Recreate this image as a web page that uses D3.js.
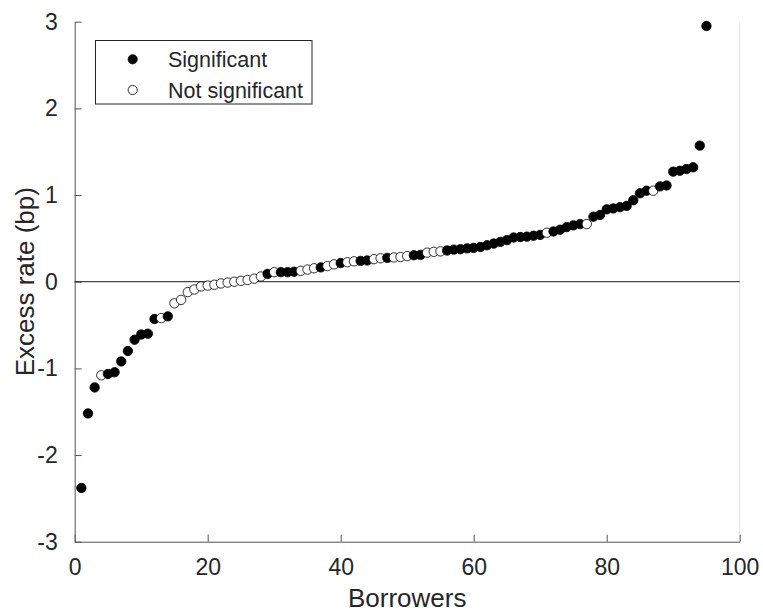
<!DOCTYPE html>
<html>
<head>
<meta charset="utf-8">
<script src="https://cdn.jsdelivr.net/npm/d3@7"></script>
<style>
  html, body { margin: 0; padding: 0; background: #fff; }
  svg { display: block; font-family: "Liberation Sans", Arial, Helvetica, sans-serif; }
</style>
</head>
<body>
<svg id="chart" width="763" height="614"></svg>
<script>
// Excess rate per borrower, sorted ascending (basis points)
const borrowers = d3.range(1, 96);
const excessRate = [
  -2.38, -1.52, -1.22, -1.08, -1.065, -1.045, -0.92, -0.80, -0.67, -0.61,
  -0.60, -0.43, -0.42, -0.40, -0.25, -0.21, -0.12, -0.09, -0.055, -0.045,
  -0.035, -0.02, -0.01, 0.0, 0.01, 0.02, 0.035, 0.06, 0.09, 0.11,
  0.11, 0.11, 0.115, 0.125, 0.14, 0.155, 0.165, 0.18, 0.20, 0.215,
  0.225, 0.235, 0.24, 0.245, 0.26, 0.27, 0.275, 0.28, 0.285, 0.295,
  0.305, 0.31, 0.335, 0.345, 0.35, 0.36, 0.37, 0.375, 0.385, 0.39,
  0.40, 0.42, 0.44, 0.46, 0.48, 0.51, 0.515, 0.52, 0.53, 0.54,
  0.565, 0.58, 0.60, 0.63, 0.65, 0.665, 0.665, 0.75, 0.77, 0.835,
  0.845, 0.86, 0.875, 0.94, 1.02, 1.05, 1.05, 1.10, 1.11, 1.27,
  1.28, 1.30, 1.32, 1.57, 2.95
];
// 1 = significant, 0 = not significant
const significant = [
  1, 1, 1, 0, 1, 1, 1, 1, 1, 1,
  1, 1, 0, 1, 0, 0, 0, 0, 0, 0,
  0, 0, 0, 0, 0, 0, 0, 0, 1, 0,
  1, 1, 1, 0, 0, 0, 1, 0, 0, 1,
  0, 0, 1, 1, 0, 0, 1, 0, 0, 0,
  1, 1, 0, 0, 0, 1, 1, 1, 1, 1,
  1, 1, 1, 1, 1, 1, 1, 1, 1, 1,
  0, 1, 1, 1, 1, 1, 0, 1, 1, 1,
  1, 1, 1, 1, 1, 1, 0, 1, 1, 1,
  1, 1, 1, 1, 1
];
const xTicks = [0, 20, 40, 60, 80, 100];
const yTicks = [-3, -2, -1, 0, 1, 2, 3];
const yTickLabels = ["-3", "-2", "-1", "0", "1", "2", "3"];
const legendLabels = ["Significant", "Not significant"];

const ink = "#262626";
const svg = d3.select("#chart");

const x = d3.scaleLinear().domain([0, 100]).range([74.7, 739.7]);
const y = d3.scaleLinear().domain([-3, 3]).range([541.7, 21.7]);

// faint right edge of the axes box
svg.append("line")
  .attr("x1", x(100)).attr("x2", x(100))
  .attr("y1", y(3)).attr("y2", y(-3))
  .attr("stroke", "#e4e4e4").attr("stroke-width", 1);

// x axis (ticks point inward)
const xAxis = svg.append("g")
  .attr("transform", `translate(0,${y(-3)})`)
  .call(d3.axisBottom(x).tickValues(xTicks).tickSizeInner(-7).tickSizeOuter(0).tickPadding(17));
xAxis.select(".domain").attr("stroke", "#555").attr("stroke-width", 1);
xAxis.selectAll(".tick line").attr("stroke", "#555");
xAxis.selectAll(".tick text")
  .attr("fill", ink).attr("font-size", 23).attr("font-family", null)
  .attr("dy", "0.71em");

// y axis (ticks point inward)
const yAxis = svg.append("g")
  .attr("transform", `translate(${x(0)},0)`)
  .call(d3.axisLeft(y).tickValues(yTicks)
    .tickFormat((d, i) => yTickLabels[i])
    .tickSizeInner(-7).tickSizeOuter(0).tickPadding(17));
yAxis.select(".domain").attr("stroke", "#555").attr("stroke-width", 1);
yAxis.selectAll(".tick line").attr("stroke", "#555");
yAxis.selectAll(".tick text")
  .attr("fill", ink).attr("font-size", 23).attr("font-family", null);
svg.selectAll(".tick line").attr("stroke-width", 1);

// zero reference line
svg.append("line")
  .attr("x1", x(0)).attr("x2", x(100))
  .attr("y1", y(0)).attr("y2", y(0))
  .attr("stroke", "#1a1a1a").attr("stroke-width", 1);

// scatter points
const pts = borrowers.map((b, i) => ({ b, v: excessRate[i], s: significant[i] }));
svg.append("g").selectAll("circle")
  .data(pts)
  .join("circle")
  .attr("cx", d => x(d.b))
  .attr("cy", d => y(d.v))
  .attr("r", 4.7)
  .attr("fill", d => d.s ? "#000" : "#fff")
  .attr("stroke", "#000")
  .attr("stroke-width", 0.8);

// axis titles
svg.append("text")
  .attr("x", (x(0) + x(100)) / 2).attr("y", 607)
  .attr("text-anchor", "middle")
  .attr("font-size", 26).attr("fill", ink)
  .text("Borrowers");
svg.append("text")
  .attr("transform", `translate(34,${y(0)}) rotate(-90)`)
  .attr("text-anchor", "middle")
  .attr("font-size", 26).attr("fill", ink)
  .text("Excess rate (bp)");

// legend
const lg = svg.append("g");
lg.append("rect")
  .attr("x", 95.5).attr("y", 40.5).attr("width", 216.5).attr("height", 63.5)
  .attr("fill", "#fff").attr("stroke", ink).attr("stroke-width", 1);
legendLabels.forEach((lab, i) => {
  const cy = 59.3 + i * 30.7;
  lg.append("circle")
    .attr("cx", 132.7).attr("cy", cy).attr("r", 4.6)
    .attr("fill", i === 0 ? "#000" : "#fff")
    .attr("stroke", "#000").attr("stroke-width", 0.8);
  lg.append("text")
    .attr("x", 168).attr("y", cy + 8)
    .attr("font-size", 21.5).attr("fill", ink)
    .text(lab);
});
</script>
</body>
</html>
